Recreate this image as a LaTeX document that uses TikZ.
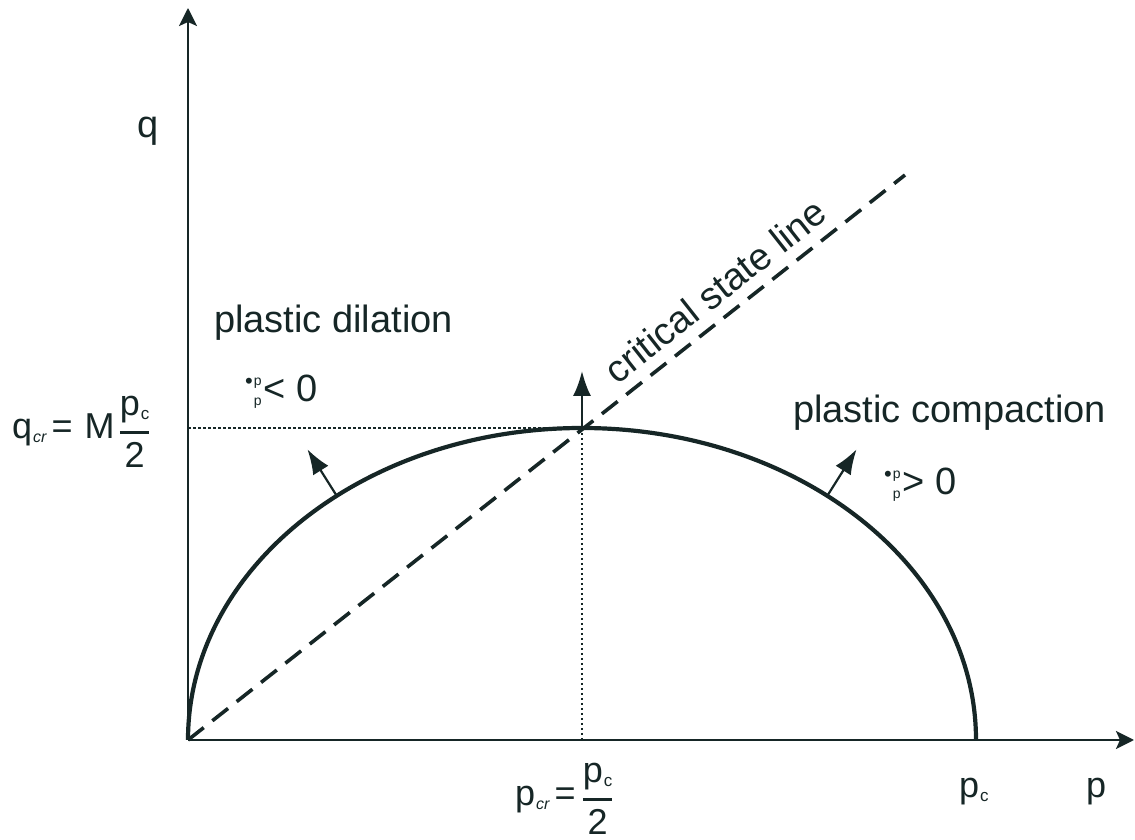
\documentclass[tikz,border=0pt]{standalone}
\usepackage{fontspec}
\usepackage{amsmath}
\setmainfont{Liberation Sans}
\usetikzlibrary{arrows.meta}
\definecolor{ink}{RGB}{22,38,38}
\newcommand{\smalltxt}[2]{\raisebox{#1}{\fontsize{14}{14}\selectfont #2}}
\newcommand{\ppdot}{\raisebox{13pt}{\fontsize{22}{22}\selectfont\textbullet}\hspace{1pt}\rlap{\smalltxt{16pt}{p}}\smalltxt{-4pt}{p}\hspace{2pt}}
\newcommand{\subc}{\hspace{1pt}\raisebox{-4pt}{\fontsize{17}{17}\selectfont c}}
\newcommand{\subcr}{\hspace{1pt}\raisebox{-4pt}{\fontsize{16}{16}\selectfont\itshape cr}}
\begin{document}
\begin{tikzpicture}[x=1pt,y=1pt,
  axisline/.style={draw=ink,line width=2.8pt,-{Stealth[length=18pt,width=18pt,inset=4pt]}},
  surface/.style={draw=ink,line width=4.2pt},
  csline/.style={draw=ink,line width=3.6pt,dash pattern=on 20pt off 11pt},
  guide/.style={draw=ink,line width=2pt,dash pattern=on 2.5pt off 2.5pt},
  normalarrow/.style={draw=ink,line width=2.2pt,-{Latex[length=25pt,width=18pt]}},
  lbl/.style={text=ink,font=\fontsize{38}{44}\selectfont,inner sep=0pt},
  plbl/.style={text=ink,font=\fontsize{36}{42}\selectfont,inner sep=0pt}]
\useasboundingbox (0,0) rectangle (1135,840);
% key points
\coordinate (O) at (188,100);
\coordinate (ytip) at (188,832);
\coordinate (xtip) at (1134,100);
\coordinate (top) at (582,412);
\coordinate (pcr) at (582,100);
\coordinate (qcr) at (188,412);
\coordinate (pc) at (976,100);
\coordinate (csend) at (905,665);
\coordinate (nl) at (336.7,344.2);
\coordinate (nlt) at (307.4,390.7);
\coordinate (nr) at (827.3,344.2);
\coordinate (nrt) at (856.6,390.7);
\coordinate (ntt) at (582,469);
% guides
\draw[guide] (qcr) -- (top);
\draw[guide] (top) -- (pcr);
% critical state line
\draw[csline] (O) -- (csend)
  node[pos=0.758,sloped,anchor=base,yshift=13pt,lbl]{critical state line};
% yield surface
\draw[surface] (O) arc[start angle=180,end angle=0,x radius=394,y radius=312];
% axes
\draw[axisline] (O) -- (ytip);
\draw[axisline] (O) -- (xtip);
% normals
\draw[normalarrow] (nl) -- (nlt);
\draw[normalarrow] (nr) -- (nrt);
\draw[normalarrow] (top) -- (ntt);
% labels
\node[lbl,anchor=base west] (lq) at (137,702) {q};
\node[lbl,anchor=base west] (ldil) at (214,507) {plastic dilation};
\node[lbl,anchor=base west] (lneg) at (245,438) {\ppdot< 0};
\node[lbl,anchor=base west] (lcomp) at (793,417) {plastic compaction};
\node[lbl,anchor=base west] (lpos) at (884,345) {\ppdot> 0};
\node[plbl,anchor=base west] (lqcr) at (12,401) {q\subcr\hspace{5pt}=\hspace{12pt}M\hspace{4pt}$\genfrac{}{}{2.8pt}{0}{\text{p\subc}}{\text{2}}$};
\node[plbl,anchor=base west] (lpcr) at (515,34) {p\subcr\hspace{5pt}=\hspace{6pt}$\genfrac{}{}{2.8pt}{0}{\text{p\subc}}{\text{2}}$};
\node[plbl,anchor=base west] (lpc) at (959,42) {p\subc};
\node[plbl,anchor=base west] (lp) at (1086,42) {p};
\end{tikzpicture}
\end{document}
